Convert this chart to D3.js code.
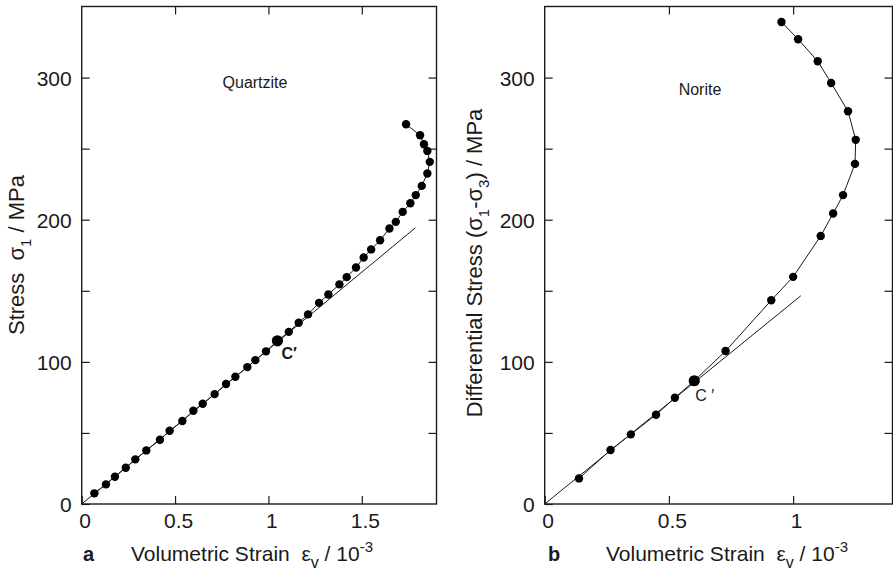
<!DOCTYPE html>
<html>
<head>
<meta charset="utf-8">
<script src="https://cdn.jsdelivr.net/npm/d3@7"></script>
<style>
  body { margin: 0; background: #fff; }
  svg { display: block; font-family: "Liberation Sans", Arial, Helvetica, sans-serif; }
  text { white-space: pre; }
</style>
</head>
<body>
<div id="chart"></div>
<script>
// Quartzite (panel a)
var quartziteStrain = [0.068, 0.130, 0.178, 0.236, 0.287, 0.346, 0.419, 0.471, 0.539, 0.598,
  0.648, 0.712, 0.773, 0.823, 0.887, 0.930, 0.987, 1.048, 1.109, 1.162, 1.212, 1.271, 1.321,
  1.380, 1.419, 1.469, 1.510, 1.550, 1.598, 1.648, 1.682, 1.719, 1.760, 1.789, 1.821, 1.851,
  1.864, 1.851, 1.833, 1.812, 1.737];
var quartziteStress = [7.5, 13.8, 19.2, 25.5, 31.4, 37.7, 45.2, 51.5, 58.4, 65.6,
  70.5, 77.3, 84.4, 89.5, 96.3, 101.2, 107.4, 114.8, 121.1, 127.5, 133.4, 141.5, 147.4,
  154.5, 159.6, 166.4, 173.4, 179.1, 185.6, 193.8, 198.5, 205.5, 211.6, 217.3, 223.8, 232.5,
  240.7, 248.4, 253.1, 259.4, 267.2];
var quartziteTangentStrain = [0, 1.787];
var quartziteTangentStress = [0, 194.3];
var quartziteCIndex = 17;

// Norite (panel b)
var noriteStrain = [0.138, 0.265, 0.347, 0.448, 0.524, 0.602, 0.728, 0.912, 1.000, 1.111,
  1.161, 1.201, 1.249, 1.252, 1.221, 1.153, 1.099, 1.020, 0.953];
var noriteStress = [18.0, 38.0, 49.0, 62.8, 74.7, 86.7, 107.6, 143.3, 159.8, 188.6,
  204.4, 217.3, 239.3, 256.2, 276.3, 296.2, 311.5, 327.0, 339.1];
var noriteTangentStrain = [0, 1.031];
var noriteTangentStress = [0, 146.5];
var noriteCIndex = 5;

var stressTicks = [0, 50, 100, 150, 200, 250, 300];
var quartziteXTicks = [0, 0.5, 1, 1.5];
var noriteXTicks = [0, 0.5, 1];

var svgWidth = 893;
var svgHeight = 573;

var svg = d3.select("#chart")
  .append("svg")
  .attr("width", svgWidth)
  .attr("height", svgHeight);

var ink = "#1a1a1a";

function drawPanel(opts) {
  var x = d3.scaleLinear().domain(opts.xDomain).range([opts.left, opts.right]);
  var y = d3.scaleLinear().domain([0, 350]).range([504, 6.5]);

  var g = svg.append("g");

  // inward ticks on all four sides
  var fmtX = d => d === 0 ? "0" : String(d);
  var fmtY = d => d % 100 === 0 ? String(d) : "";

  var bottom = g.append("g")
    .attr("transform", `translate(0, ${y(0)})`)
    .call(d3.axisBottom(x).tickValues(opts.xTicks).tickFormat(fmtX).tickSize(-8).tickPadding(9));
  var top = g.append("g")
    .attr("transform", `translate(0, ${y(350)})`)
    .call(d3.axisTop(x).tickValues(opts.xTicks.slice(1)).tickFormat("").tickSize(-8));
  var leftAx = g.append("g")
    .attr("transform", `translate(${x(opts.xDomain[0])}, 0)`)
    .call(d3.axisLeft(y).tickValues(stressTicks).tickFormat(fmtY).tickSize(-8).tickPadding(10));
  var rightAx = g.append("g")
    .attr("transform", `translate(${x(opts.xDomain[1])}, 0)`)
    .call(d3.axisRight(y).tickValues(stressTicks.slice(1)).tickFormat("").tickSize(-8));

  [bottom, top, leftAx, rightAx].forEach(function(a) {
    a.select(".domain").remove();
    a.selectAll("line").attr("stroke", ink).attr("stroke-width", 1.2);
    a.selectAll("text")
      .attr("fill", ink)
      .style("font-family", "'Liberation Sans', Arial, sans-serif")
      .style("font-size", "21px");
  });
  bottom.selectAll("text").attr("dx", 3).attr("dy", "0.72em");
  leftAx.selectAll("text").attr("dy", "0.36em");

  // frame
  g.append("rect")
    .attr("x", x(opts.xDomain[0]))
    .attr("y", y(350))
    .attr("width", x(opts.xDomain[1]) - x(opts.xDomain[0]))
    .attr("height", y(0) - y(350))
    .attr("fill", "none")
    .attr("stroke", ink)
    .attr("stroke-width", 1.4);

  // tangent line
  g.append("line")
    .attr("x1", x(opts.tanX[0])).attr("y1", y(opts.tanY[0]))
    .attr("x2", x(opts.tanX[1])).attr("y2", y(opts.tanY[1]))
    .attr("stroke", ink)
    .attr("stroke-width", 1);

  // data line + points
  var pts = opts.xs.map((v, i) => [v, opts.ys[i]]);
  g.append("path")
    .datum(pts)
    .attr("d", d3.line().x(d => x(d[0])).y(d => y(d[1])))
    .attr("fill", "none")
    .attr("stroke", ink)
    .attr("stroke-width", 1);

  g.selectAll("circle.pt")
    .data(pts)
    .enter()
    .append("circle")
    .attr("class", "pt")
    .attr("cx", d => x(d[0]))
    .attr("cy", d => y(d[1]))
    .attr("r", (d, i) => i === opts.cIndex ? 5.6 : 4.2)
    .attr("fill", "#000");

  // C' label
  var c = pts[opts.cIndex];
  g.append("text")
    .attr("x", x(c[0]) + opts.cDx)
    .attr("y", y(c[1]) + opts.cDy)
    .style("font-size", opts.cSize)
    .style("font-weight", opts.cWeight)
    .attr("fill", ink)
    .text(opts.cText);

  // rock name
  g.append("text")
    .attr("x", opts.nameX)
    .attr("y", opts.nameY)
    .attr("text-anchor", "middle")
    .style("font-size", "16px")
    .attr("fill", ink)
    .text(opts.name);

  // panel letter
  g.append("text")
    .attr("x", opts.letterX)
    .attr("y", 561)
    .style("font-size", "20px")
    .style("font-weight", "bold")
    .attr("fill", ink)
    .text(opts.letter);

  // x axis label
  var xl = g.append("text")
    .attr("x", opts.xLabelX)
    .attr("y", 561)
    .style("font-size", "21px")
    .attr("fill", ink);
  xl.append("tspan").text("Volumetric Strain  ε");
  xl.append("tspan").attr("dy", 7).style("font-size", "16px").text("v");
  xl.append("tspan").attr("dy", -7).text(" / 10");
  xl.append("tspan").attr("dy", -9).style("font-size", "15px").text("-3");

  // y axis label
  var yl = g.append("text")
    .attr("transform", `translate(${opts.yLabelX}, ${opts.yLabelY}) rotate(-90)`)
    .attr("text-anchor", "middle")
    .style("font-size", "22px")
    .attr("fill", ink);
  opts.yLabelParts.forEach(function(p) {
    var t = yl.append("tspan").text(p[0]);
    if (p[1] === "sub") t.attr("dy", 7).style("font-size", "15px");
    if (p[1] === "back") t.attr("dy", -7);
  });
}

drawPanel({
  xDomain: [0, 1.9], left: 81.7, right: 436.5,
  xTicks: quartziteXTicks,
  xs: quartziteStrain, ys: quartziteStress,
  tanX: quartziteTangentStrain, tanY: quartziteTangentStress,
  cIndex: quartziteCIndex, cText: "C\u2032", cDx: 4, cDy: 18, cSize: "16px", cWeight: "bold",
  name: "Quartzite", nameX: 255, nameY: 88,
  letter: "a", letterX: 83, xLabelX: 131,
  yLabelX: 24, yLabelY: 255,
  yLabelParts: [["Stress  σ", ""], ["1", "sub"], [" / MPa", "back"]]
});

drawPanel({
  xDomain: [0, 1.4], left: 544.7, right: 892.5,
  xTicks: noriteXTicks,
  xs: noriteStrain, ys: noriteStress,
  tanX: noriteTangentStrain, tanY: noriteTangentStress,
  cIndex: noriteCIndex, cText: "C \u2032", cDx: 1, cDy: 20, cSize: "16px", cWeight: "normal",
  name: "Norite", nameX: 700, nameY: 95,
  letter: "b", letterX: 548, xLabelX: 606,
  yLabelX: 482, yLabelY: 263,
  yLabelParts: [["Differential Stress (σ", ""], ["1", "sub"], ["-σ", "back"], ["3", "sub"], [") / MPa", "back"]]
});
</script>
</body>
</html>
